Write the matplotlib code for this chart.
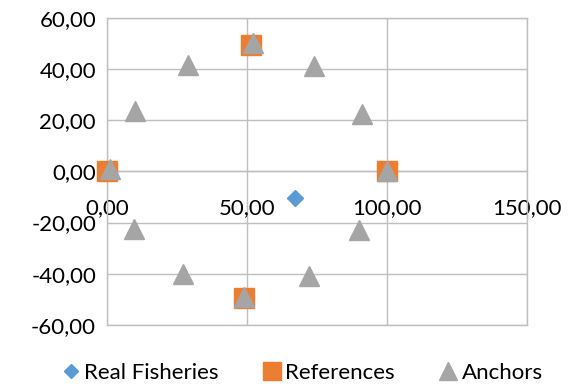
# Scatter of fisheries, reference points and anchor points

import matplotlib
matplotlib.use("Agg")
import matplotlib.pyplot as plt
from matplotlib.ticker import FuncFormatter

fisheries_x = [67]
fisheries_y = [-10.5]

references_x = [0, 51.5, 100, 49]
references_y = [0, 49.5, 0, -49.5]

anchors_x = [1, 10, 29, 52, 74, 91, 100, 90, 72, 49, 27, 9.5]
anchors_y = [1, 23.5, 41.5, 50, 41, 22.5, 0, -23, -41, -49, -40, -22.5]

x_ticks = [0, 50, 100, 150]
y_ticks = [-60, -40, -20, 0, 20, 40, 60]

plt.rcParams['font.family'] = ['Lato', 'DejaVu Sans']
grid_col = '#BFBFBF'

fig = plt.figure(figsize=(5.79, 3.89), dpi=100)
ax = fig.add_axes([0.185, 0.165, 0.725, 0.789])

ax.plot(fisheries_x, fisheries_y, 'D', color='#5B9BD5', ms=8, label='Real Fisheries',
        zorder=3, clip_on=False)
ax.plot(references_x, references_y, 's', color='#ED7D31', ms=14, label='References',
        zorder=4, clip_on=False)
ax.plot(anchors_x, anchors_y, '^', color='#A5A5A5', ms=14, label='Anchors',
        zorder=5, clip_on=False)

ax.set_xlim(0, 150)
ax.set_ylim(-60, 60)
ax.set_xticks(x_ticks)
ax.set_yticks(y_ticks)
fmt = FuncFormatter(lambda v, p: f"{v:.2f}".replace('.', ','))
ax.xaxis.set_major_formatter(fmt)
ax.yaxis.set_major_formatter(fmt)

ax.grid(True, color=grid_col, lw=1)
ax.set_axisbelow(True)
for s in ax.spines.values():
    s.set_color(grid_col)
    s.set_linewidth(1)
ax.spines['bottom'].set_position(('data', 0))
ax.tick_params(axis='both', length=0, labelsize=16, colors='black')
ax.tick_params(axis='x', pad=19)
ax.tick_params(axis='y', pad=8)
# border line at the bottom edge
ax.axhline(-60, color=grid_col, lw=1, clip_on=False, zorder=1)

fig.legend(loc='lower center', bbox_to_anchor=(0.52, -0.035), ncol=3, frameon=False,
           fontsize=16, handletextpad=0.1, columnspacing=1.9, handlelength=1.0,
           markerscale=0.9)

plt.savefig('out.png', dpi=100)
